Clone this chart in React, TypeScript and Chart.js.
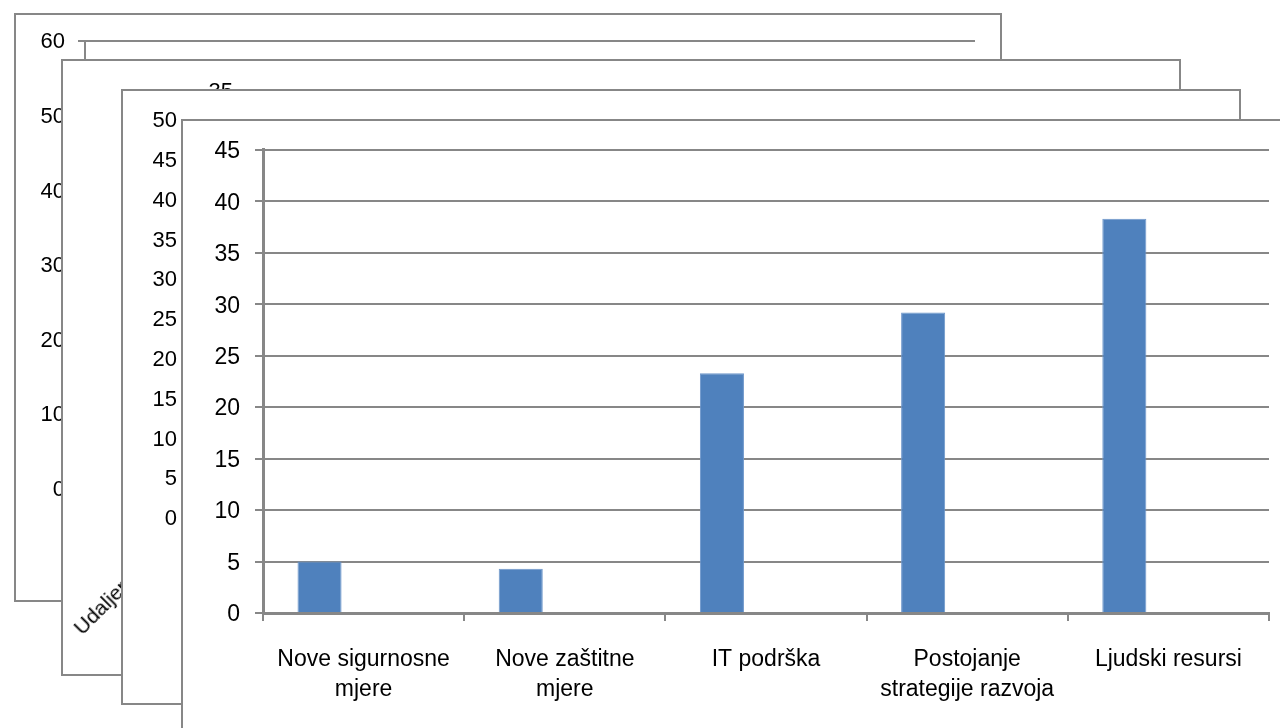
import React, { useEffect, useRef } from "react";
import { Chart, registerables } from "chart.js";

Chart.register(...registerables);

// ---------- data ----------
const categories: (string | string[])[] = [
  ["Nove sigurnosne", "mjere"],
  ["Nove zaštitne", "mjere"],
  "IT podrška",
  ["Postojanje", "strategije razvoja"],
  "Ljudski resursi",
];
const seriesMain = [5.0, 4.3, 23.3, 29.2, 38.3];
const seriesEmpty2 = [null, null, null, null, null];
const seriesEmpty3 = [null, null, null, null, null];

const frontAxis = { min: 0, max: 45, step: 5 };
const back1Axis = { min: 0, max: 60, step: 10 };
const back2Axis = { min: 0, max: 35, step: 5 };
const back3Axis = { min: 0, max: 50, step: 5 };
const back2HiddenLabel = "Udaljenost";

// ---------- styles ----------
const GREY = "#878787";
const FAMILY = "'Liberation Sans', Arial, sans-serif";

type BackProps = {
  left: number;
  top: number;
  width: number;
  height: number;
  axis: { min: number; max: number; step: number };
  yWidth: number;
  tickLen: number;
  labelPad: number;
  padding: { top: number; bottom: number; right: number };
  fontSize: number;
};

function BackChart(p: BackProps) {
  const ref = useRef<HTMLCanvasElement | null>(null);
  const cw = p.width - 4;
  const ch = p.height - 4;
  useEffect(() => {
    if (!ref.current) return;
    const chart = new Chart(ref.current, {
      type: "bar",
      data: { labels: [], datasets: [] },
      options: {
        animation: false,
        responsive: false,
        maintainAspectRatio: false,
        layout: { padding: { top: p.padding.top, bottom: p.padding.bottom, right: p.padding.right, left: 0 } },
        plugins: { legend: { display: false }, tooltip: { enabled: false } },
        scales: {
          x: { display: false },
          y: {
            min: p.axis.min,
            max: p.axis.max,
            ticks: {
              stepSize: p.axis.step,
              padding: p.labelPad,
              labelOffset: 1,
              color: "#000",
              font: { family: FAMILY, size: p.fontSize },
            },
            grid: { color: GREY, lineWidth: 2, tickLength: p.tickLen },
            border: { color: GREY, width: 2 },
            afterFit: (s: any) => {
              s.width = p.yWidth;
            },
          },
        },
      } as any,
    });
    return () => chart.destroy();
  }, []);
  return (
    <div
      style={{
        position: "absolute",
        left: p.left,
        top: p.top,
        width: p.width,
        height: p.height,
        boxSizing: "border-box",
        border: `2px solid ${GREY}`,
        background: "#fff",
        overflow: "hidden",
      }}
    >
      <canvas ref={ref} width={cw} height={ch} style={{ display: "block" }} />
    </div>
  );
}

function FrontChart() {
  const ref = useRef<HTMLCanvasElement | null>(null);
  useEffect(() => {
    if (!ref.current) return;
    const chart = new Chart(ref.current, {
      type: "bar",
      data: {
        labels: categories as any,
        datasets: [
          {
            label: "Serija 1",
            data: seriesMain,
            backgroundColor: "#4F81BD",
            borderColor: "#6E97CB",
            borderWidth: 1,
            barPercentage: 1,
            categoryPercentage: 0.657,
          },
          {
            label: "Serija 2",
            data: seriesEmpty2 as any,
            backgroundColor: "#C0504D",
            barPercentage: 1,
            categoryPercentage: 0.657,
          },
          {
            label: "Serija 3",
            data: seriesEmpty3 as any,
            backgroundColor: "#9BBB59",
            barPercentage: 1,
            categoryPercentage: 0.657,
          },
        ],
      },
      options: {
        animation: false,
        responsive: false,
        maintainAspectRatio: false,
        layout: { padding: { top: 27, right: 14, left: 0, bottom: 0 } },
        plugins: { legend: { display: false }, tooltip: { enabled: false } },
        scales: {
          x: {
            offset: true,
            grid: {
              display: true,
              drawOnChartArea: false,
              offset: true,
              color: GREY,
              lineWidth: 2,
              tickLength: 8,
            },
            border: { color: GREY, width: 3 },
            ticks: {
              color: "#000",
              padding: 24,
              maxRotation: 0,
              minRotation: 0,
              autoSkip: false,
              font: { family: FAMILY, size: 23, lineHeight: 1.3 },
            },
            afterFit: (s: any) => {
              s.height = 128;
            },
          },
          y: {
            min: frontAxis.min,
            max: frontAxis.max,
            ticks: {
              stepSize: frontAxis.step,
              padding: 15,
              labelOffset: 2,
              color: "#000",
              font: { family: FAMILY, size: 23 },
            },
            grid: { color: GREY, lineWidth: 2, tickLength: 8 },
            border: { color: GREY, width: 3 },
            afterFit: (s: any) => {
              s.width = 80;
            },
          },
        },
      } as any,
    });
    return () => chart.destroy();
  }, []);
  return (
    <div
      style={{
        position: "absolute",
        left: 181,
        top: 119,
        width: 1200,
        height: 700,
        boxSizing: "border-box",
        border: `2px solid ${GREY}`,
        background: "#fff",
        overflow: "hidden",
      }}
    >
      <canvas ref={ref} width={1100} height={620} style={{ display: "block" }} />
    </div>
  );
}

export default function App() {
  return (
    <div
      style={{
        position: "fixed",
        left: 0,
        top: 0,
        width: 1280,
        height: 728,
        overflow: "hidden",
        background: "#fff",
      }}
    >
      <BackChart
        left={14}
        top={13}
        width={988}
        height={589}
        axis={back1Axis}
        yWidth={69}
        tickLen={7}
        labelPad={13}
        padding={{ top: 25, bottom: 111, right: 25 }}
        fontSize={22}
      />
      <BackChart
        left={61}
        top={59}
        width={1120}
        height={617}
        axis={back2Axis}
        yWidth={195}
        tickLen={8}
        labelPad={17}
        padding={{ top: 27, bottom: 320, right: 29 }}
        fontSize={22}
      />
      <div
        style={{
          position: "absolute",
          left: 82,
          top: 636 - 17.75,
          fontFamily: FAMILY,
          fontSize: 21,
          lineHeight: "21px",
          whiteSpace: "nowrap",
          color: "#000",
          transformOrigin: "0 17.75px",
          transform: "rotate(-45deg)",
        }}
      >
        {back2HiddenLabel}
      </div>
      <BackChart
        left={121}
        top={89}
        width={1120}
        height={616}
        axis={back3Axis}
        yWidth={78}
        tickLen={8}
        labelPad={16}
        padding={{ top: 27, bottom: 185, right: 29 }}
        fontSize={22}
      />
      <FrontChart />
    </div>
  );
}
